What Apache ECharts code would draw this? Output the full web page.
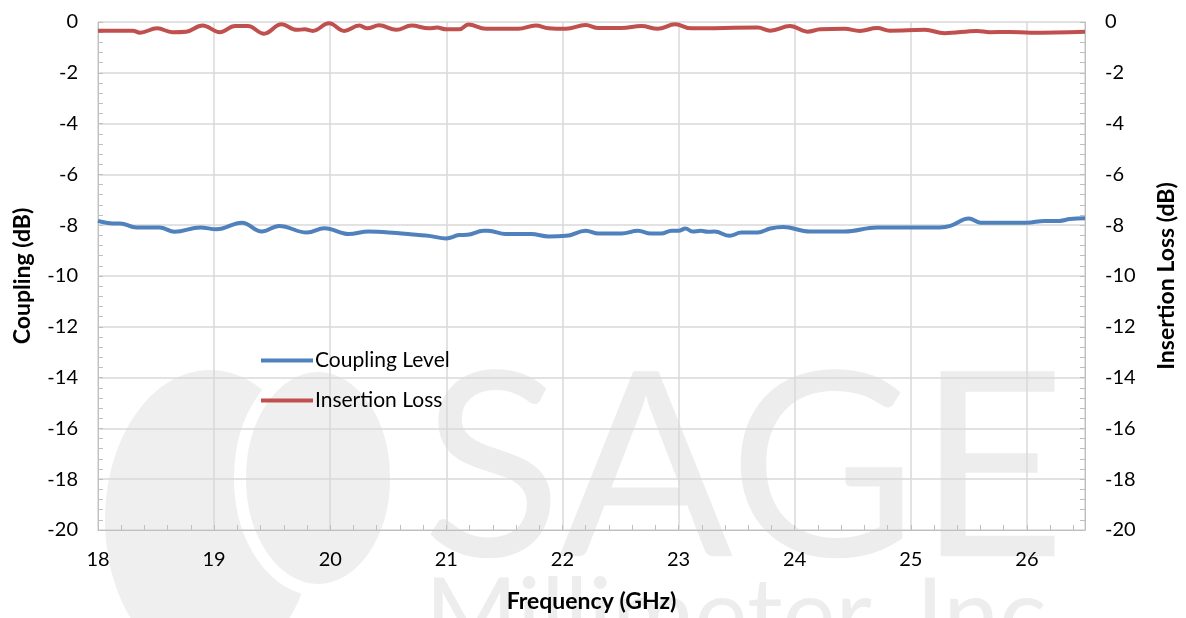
<!DOCTYPE html>
<html>
<head>
<meta charset="utf-8">
<script src="https://cdn.jsdelivr.net/npm/echarts@6/dist/echarts.min.js"></script>
<style>
  html, body { margin: 0; padding: 0; background: #fff; }
  #chart { width: 1186px; height: 618px; }
</style>
</head>
<body>
<div id="chart"></div>
<script>
// Coupling Level (blue)
const couplingFreq = [18.00, 18.13, 18.19, 18.33, 18.53, 18.66, 18.88, 19.02, 19.24, 19.41, 19.56, 19.80, 19.95,
  20.16, 20.33, 20.57, 20.74, 20.85, 21.00, 21.11, 21.18, 21.32, 21.36, 21.51, 21.73, 21.88, 22.03, 22.20,
  22.31, 22.51, 22.65, 22.76, 22.85, 22.94, 23.00, 23.06, 23.12, 23.19, 23.25, 23.31, 23.44, 23.54, 23.68,
  23.79, 23.90, 24.13, 24.43, 24.71, 25.25, 25.34, 25.50, 25.60, 26.00, 26.15, 26.28, 26.37, 26.50];
const couplingDb = [-7.83, -7.93, -7.93, -8.09, -8.09, -8.26, -8.09, -8.16, -7.90, -8.25, -8.03, -8.29, -8.12,
  -8.35, -8.25, -8.31, -8.38, -8.42, -8.52, -8.39, -8.38, -8.22, -8.22, -8.35, -8.35, -8.44, -8.42, -8.22,
  -8.33, -8.33, -8.22, -8.33, -8.33, -8.22, -8.22, -8.13, -8.25, -8.22, -8.26, -8.25, -8.42, -8.29, -8.29,
  -8.13, -8.07, -8.25, -8.25, -8.09, -8.09, -8.03, -7.74, -7.90, -7.90, -7.83, -7.83, -7.76, -7.73];

// Insertion Loss (red)
const lossFreq = [18.00, 18.30, 18.36, 18.51, 18.64, 18.76, 18.90, 19.05, 19.18, 19.29, 19.43, 19.58, 19.71,
  19.78, 19.85, 19.99, 20.12, 20.25, 20.32, 20.42, 20.57, 20.70, 20.85, 20.92, 21.00, 21.11, 21.19, 21.34,
  21.62, 21.77, 21.88, 22.03, 22.20, 22.31, 22.51, 22.68, 22.82, 22.97, 23.11, 23.68, 23.79, 23.96, 24.11,
  24.22, 24.43, 24.56, 24.71, 24.82, 25.12, 25.29, 25.57, 25.68, 25.85, 26.03, 26.50];
const lossDb = [-0.34, -0.34, -0.42, -0.25, -0.40, -0.38, -0.14, -0.40, -0.16, -0.16, -0.46, -0.09, -0.31,
  -0.29, -0.35, -0.05, -0.35, -0.14, -0.25, -0.13, -0.31, -0.14, -0.25, -0.22, -0.29, -0.29, -0.10, -0.27,
  -0.27, -0.14, -0.25, -0.27, -0.12, -0.24, -0.24, -0.16, -0.27, -0.09, -0.25, -0.22, -0.34, -0.16, -0.38,
  -0.29, -0.27, -0.35, -0.24, -0.34, -0.31, -0.44, -0.35, -0.40, -0.39, -0.42, -0.38];

const seriesNames = ['Coupling Level', 'Insertion Loss'];

const FONT = 'Lato, "Open Sans", sans-serif';
const gridColor = '#d9d9d9';
const axisColor = '#bfbfbf';

function pairs(xs, ys) {
  return xs.map((x, i) => [x, ys[i]]);
}

function yAxisOpt(name, position, gap) {
  return {
    type: 'value',
    position: position,
    min: -20,
    max: 0,
    interval: 2,
    name: name,
    nameLocation: 'middle',
    nameGap: gap,
    nameTextStyle: { fontFamily: FONT, fontSize: 23, fontWeight: 'bold', color: '#000' },
    axisLine: { show: true, lineStyle: { color: axisColor, width: 1 } },
    axisTick: { show: true, inside: true, length: 5, lineStyle: { color: axisColor } },
    minorTick: { show: true, splitNumber: 5, length: 5, lineStyle: { color: axisColor } },
    axisLabel: { fontFamily: FONT, fontSize: 20, color: '#000', margin: 20 },
    splitLine: { show: position === 'left', lineStyle: { color: gridColor, width: 1.5 } }
  };
}

const chart = echarts.init(document.getElementById('chart'), null, { renderer: 'canvas' });

chart.setOption({
  animation: false,
  backgroundColor: '#fff',
  grid: { left: 98, right: 96, top: 22, bottom: 85 },
  // SAGE watermark behind the plot
  graphic: [
    { type: 'ellipse', z: -10, shape: { cx: 210, cy: 520, rx: 105, ry: 150 }, style: { fill: '#efefef' } },
    { type: 'ellipse', z: -9, shape: { cx: 318, cy: 478, rx: 78, ry: 112 }, style: { fill: '#efefef', stroke: '#fff', lineWidth: 12 } },
    { type: 'text', z: -10, left: 422, top: 344, style: { text: 'SAGE', font: 'normal 258px ' + FONT, fill: '#ededed' } },
    { type: 'text', z: -10, left: 425, top: 568, style: { text: 'Millimeter, Inc.', font: 'normal 100px ' + FONT, fill: '#ededed' } }
  ],
  legend: {
    data: seriesNames,
    orient: 'vertical',
    left: 256,
    top: 345,
    itemGap: 19,
    itemWidth: 52,
    itemHeight: 4,
    icon: 'rect',
    textStyle: { fontFamily: FONT, fontSize: 21, color: '#000', padding: [0, 0, 0, -3] }
  },
  xAxis: {
    type: 'value',
    min: 18,
    max: 26.5,
    interval: 1,
    name: 'Frequency (GHz)',
    nameLocation: 'middle',
    nameGap: 60,
    nameTextStyle: { fontFamily: FONT, fontSize: 23, fontWeight: 'bold', color: '#000' },
    axisLine: { show: true, onZero: false, lineStyle: { color: axisColor, width: 1 } },
    axisTick: { show: true, inside: true, length: 5, lineStyle: { color: axisColor } },
    minorTick: { show: true, splitNumber: 5, length: 5, lineStyle: { color: axisColor } },
    axisLabel: { fontFamily: FONT, fontSize: 20, color: '#000', margin: 20, showMaxLabel: false },
    splitLine: { show: true, lineStyle: { color: gridColor, width: 1.5 } }
  },
  yAxis: [
    yAxisOpt('Coupling (dB)', 'left', 64),
    yAxisOpt('Insertion Loss (dB)', 'right', 70)
  ],
  series: [
    {
      name: seriesNames[0],
      type: 'line',
      yAxisIndex: 0,
      data: pairs(couplingFreq, couplingDb),
      smooth: 0.4,
      showSymbol: false,
      lineStyle: { color: '#4f81bd', width: 4 },
      itemStyle: { color: '#4f81bd' }
    },
    {
      name: seriesNames[1],
      type: 'line',
      yAxisIndex: 1,
      data: pairs(lossFreq, lossDb),
      smooth: 0.4,
      showSymbol: false,
      lineStyle: { color: '#c0504d', width: 4 },
      itemStyle: { color: '#c0504d' }
    }
  ]
});
</script>
</body>
</html>
